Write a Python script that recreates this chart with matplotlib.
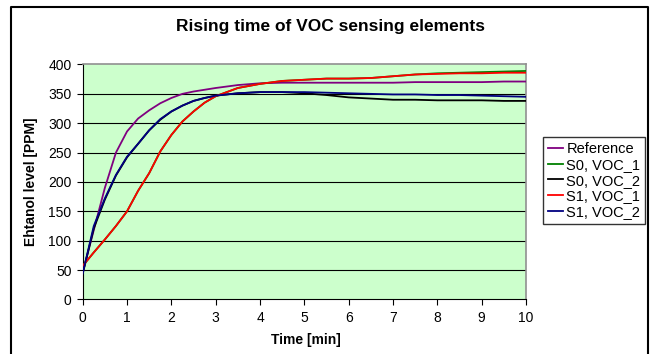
import matplotlib
matplotlib.use("Agg")
import matplotlib.pyplot as plt
from matplotlib.lines import Line2D

plt.rcParams['font.family'] = ['Liberation Sans', 'DejaVu Sans']

# Sample times [min]
time_min = [0, 0.25, 0.5, 0.75, 1.0, 1.25, 1.5, 1.75, 2.0, 2.25, 2.5, 2.75, 3.0,
            3.5, 4.0, 4.5, 5.0, 5.5, 6.0, 6.5, 7.0, 7.5, 8.0, 8.5, 9.0, 9.5, 10.0]

# Ethanol level [PPM] per sensing element
reference = [46, 118, 190, 250, 286, 308, 322, 334, 343, 350, 354, 357, 360,
             365, 368, 369, 369, 369, 369, 369, 369, 370, 370, 370, 370, 371, 371]
s0_voc1 = [57, 80, 102, 125, 150, 185, 215, 252, 280, 303, 320, 335, 346,
           360, 367, 372, 374, 376, 376, 377, 380, 383, 385, 386, 387, 388, 389]
s0_voc2 = [44, 121, 170, 211, 242, 265, 288, 306, 320, 330, 338, 343, 347,
           351, 353, 353, 351, 348, 344, 342, 340, 340, 339, 339, 339, 338, 338]
s1_voc1 = [57, 80, 102, 125, 150, 185, 215, 252, 280, 303, 320, 335, 346,
           360, 367, 372, 374, 376, 376, 377, 380, 383, 384, 385, 385, 386, 386]
s1_voc2 = [44, 125, 172, 212, 243, 265, 288, 307, 320, 330, 338, 343, 347,
           351, 353, 353, 353, 352, 351, 350, 349, 349, 348, 348, 347, 346, 345]

series_names = ["Reference", "S0, VOC_1", "S0, VOC_2", "S1, VOC_1", "S1, VOC_2"]
series_values = [reference, s0_voc1, s0_voc2, s1_voc1, s1_voc2]
series_colors = ["#800080", "#008000", "#000000", "#FF0000", "#000080"]

x_ticks = list(range(0, 11))
y_ticks = list(range(0, 401, 50))

W, H = 654, 354
fig = plt.figure(figsize=(W / 100, H / 100), dpi=100)
fig.patch.set_facecolor("white")

ax = fig.add_axes([82.7 / W, 1 - 299.4 / H, (526 - 82.7) / W, (299.4 - 64.5) / H])
ax.set_facecolor("#CCFFCC")

for yv in y_ticks[1:-1]:
    ax.axhline(yv, color="#000000", lw=0.8, zorder=1)

handles = []
for name, vals, col in zip(series_names, series_values, series_colors):
    h, = ax.plot(time_min, vals, color=col, lw=1.3, label=name, zorder=3)
    handles.append(h)

ax.set_xlim(0, 10)
ax.set_ylim(0, 400)
ax.set_xticks(x_ticks)
ax.set_yticks(y_ticks)
ax.tick_params(direction="out", length=4, width=0.8, labelsize=10, pad=4, colors="black")

for side in ("top", "right"):
    ax.spines[side].set_color("#909090")
    ax.spines[side].set_linewidth(1.2)
for side in ("left", "bottom"):
    ax.spines[side].set_color("black")
    ax.spines[side].set_linewidth(0.8)

fig.text(330 / W, 1 - 27 / H, "Rising time of VOC sensing elements",
         ha="center", va="center", fontsize=12.5, fontweight="bold")
fig.text(306 / W, 1 - 340 / H, "Time [min]", ha="center", va="center",
         fontsize=10, fontweight="bold")
fig.text(31 / W, 1 - 182 / H, "Ehtanol level [PPM]", ha="center", va="center",
         rotation=90, fontsize=10, fontweight="bold")

leg = fig.legend(handles=handles, loc="upper left",
                 bbox_to_anchor=(543 / W, 1 - 137 / H), fontsize=10.5,
                 frameon=True, fancybox=False, handlelength=1.0, handletextpad=0.25,
                 borderpad=0.35, labelspacing=0.12, borderaxespad=0)
leg.get_frame().set_edgecolor("black")
leg.get_frame().set_linewidth(1.0)

# Outer chart frame (open at the bottom edge)
fig.add_artist(Line2D([11 / W, 11 / W, 648 / W, 648 / W], [0, 1 - 7 / H, 1 - 7 / H, 0],
                      transform=fig.transFigure, color="black", lw=1.5))

fig.savefig("out.png", dpi=100)
